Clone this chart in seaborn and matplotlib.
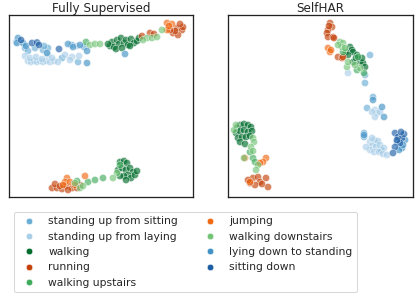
import pandas as pd
import matplotlib
matplotlib.use('Agg')
import matplotlib.pyplot as plt
from matplotlib.lines import Line2D
import seaborn as sns

# ================= data (2-D embedding coordinates) =================
CLASSES = ['standing up from sitting', 'standing up from laying', 'walking', 'running',
           'walking upstairs', 'jumping', 'walking downstairs', 'lying down to standing',
           'sitting down']
COLORS = ['#6baed6', '#a9cfe8', '#006d2c', '#c4420a',
          '#41ab5d', '#f16913', '#74c476', '#4292c6',
          '#1c5ea6']

# --- Fully Supervised ---
fs_sus = [(16, 149), (19, 146), (34, 147), (39, 149), (63, 152), (69, 135), (35, 151), (26, 149), (75, 150), (53, 139)]
fs_sul = [(7, 155), (16, 141), (39, 142), (56, 142), (63, 140), (70, 141), (68, 151), (61, 137),
          (19, 136), (22, 135), (25, 136), (28, 135), (31, 136), (34, 135), (37, 136), (41, 135),
          (45, 136), (49, 135), (21, 139), (27, 140), (33, 138), (43, 139)]
fs_walk = [(101, 151), (103, 155), (105, 150), (108, 157), (110, 153), (112, 159), (115, 154), (117, 157),
           (119, 152), (122, 158), (125, 154), (128, 156), (130, 159), (107, 148), (113, 149), (121, 151),
           (99, 153), (111, 35), (115, 36), (118, 34), (109, 27), (113, 29), (117, 27), (121, 29), (124, 25),
           (119, 22), (115, 21), (111, 21), (122, 19), (126, 22), (117, 17), (128, 26)]
fs_run = [(133, 161), (141, 164), (145, 163), (168, 169), (173, 167), (164, 164), (169, 162), (174, 170),
          (171, 173), (166, 166), (161, 167), (43, 9), (48, 9), (53, 8), (57, 11), (63, 9), (68, 9),
          (71, 12), (46, 13), (59, 7), (51, 11)]
fs_wup = [(77, 155), (94, 19), (86, 17), (79, 15), (68, 16), (111, 32)]
fs_jump = [(158, 174), (163, 173), (158, 167), (160, 171), (76, 21), (58, 19), (56, 15), (54, 12), (61, 15), (66, 12)]
fs_wdown = [(81, 152), (86, 153), (91, 153), (138, 159), (143, 159), (148, 160), (153, 167), (134, 157),
            (108, 24), (104, 19), (71, 9), (74, 11), (66, 14)]
fs_lds = [(9, 159), (8, 154), (14, 154), (59, 153), (71, 152), (78, 146), (78, 134), (38, 144), (116, 143), (17, 151), (64, 150)]
fs_sd = [(23, 154), (28, 154.5), (30, 152), (50, 148), (12, 157)]

# --- SelfHAR ---
sh_sus = [(142, 142), (137, 122), (137, 114), (145, 100), (139, 89), (136, 64), (136, 60), (148, 54), (153, 47)]
sh_sul = [(120, 124), (147, 87), (149, 84), (147, 80), (152, 85), (144, 85),
          (142, 55), (146, 57), (150, 56), (144, 51), (148, 50), (152, 52), (156, 49), (142, 47),
          (146, 45), (151, 45), (155, 43), (159, 42), (138, 50), (144, 59)]
sh_walk = [(122, 150), (124, 147), (125, 145), (129, 142), (125, 135), (132, 135), (135, 134), (137, 130),
           (128, 139), (134, 139), (118, 145), (120, 142),
           (9, 69), (12, 72), (16, 73), (20, 72), (23, 70), (8, 64), (12, 66), (16, 67), (20, 65), (24, 66),
           (10, 59), (14, 60), (18, 60), (22, 61), (12, 55), (17, 53)]
sh_run = [(102, 174), (104, 170), (100, 167), (99, 164), (100, 160), (105, 160), (106, 159), (110, 140),
          (114, 139), (115, 140), (101, 171),
          (25, 19), (30, 20), (32, 15), (27, 12), (22, 14), (38, 19), (40, 10), (34, 13), (20, 17)]
sh_wup = [(130, 140), (115, 145), (129, 127), (136, 124), (25, 39), (22, 45), (27, 35)]
sh_jump = [(100, 149), (102, 145), (103, 147), (17, 39), (38, 39), (35, 35), (32, 34), (22, 15)]
sh_wdown = [(112, 155), (115, 154), (114, 150), (117, 149), (110, 152), (119, 130), (132, 129), (120, 135), (127, 132),
            (6, 67), (25, 59), (26, 55), (23, 50), (25, 46), (16, 39), (30, 32), (28, 27), (8, 72)]
sh_lds = [(145, 97), (154, 90), (156, 80), (169, 55), (174, 49), (177, 57), (171, 47), (175, 52), (136, 62)]
sh_sd = [(167, 64), (170, 60), (174, 59), (172, 54), (167, 50), (165, 44), (176, 63), (173, 65), (169, 57)]

PANELS = {
    'Fully Supervised': [fs_sus, fs_sul, fs_walk, fs_run, fs_wup, fs_jump, fs_wdown, fs_lds, fs_sd],
    'SelfHAR': [sh_sus, sh_sul, sh_walk, sh_run, sh_wup, sh_jump, sh_wdown, sh_lds, sh_sd],
}


def to_frame(groups):
    rows = []
    for label, pts in zip(CLASSES, groups):
        for x, y in pts:
            rows.append({'x': x, 'y': y, 'activity': label})
    return pd.DataFrame(rows)


sns.set_theme(style='white')
plt.rcParams['font.family'] = ['DejaVu Sans']

palette = dict(zip(CLASSES, COLORS))
fig = plt.figure(figsize=(416 / 72, 297 / 72), dpi=72)
ax_boxes = [[9 / 416, 100 / 297, 184 / 416, 182 / 297],
            [228 / 416, 100 / 297, 185 / 416, 182 / 297]]

for box, (title, groups) in zip(ax_boxes, PANELS.items()):
    ax = fig.add_axes(box)
    df = to_frame(groups)
    sns.scatterplot(data=df, x='x', y='y', hue='activity', palette=palette,
                    s=52, alpha=0.65, edgecolor='white', linewidth=0.6,
                    legend=False, ax=ax)
    ax.set_xlim(0, box[2] * 416)
    ax.set_ylim(0, 182)
    ax.set_xticks([])
    ax.set_yticks([])
    ax.set_xlabel('')
    ax.set_ylabel('')
    ax.set_title(title, fontsize=12, pad=2)
    for sp in ax.spines.values():
        sp.set_color('#222222')
        sp.set_linewidth(1.3)

handles = [Line2D([0], [0], marker='o', linestyle='', markersize=6.5,
                  markerfacecolor=c, markeredgecolor='white', markeredgewidth=0.5)
           for c in COLORS]
fig.legend(handles, CLASSES, ncol=2, loc='upper left',
           bbox_to_anchor=(14 / 416, 1 - 212 / 297), borderaxespad=0,
           fontsize=10.7, frameon=True, edgecolor='#cccccc', fancybox=True,
           columnspacing=2.0, handletextpad=0.8)

fig.savefig('out.png', dpi=72)
